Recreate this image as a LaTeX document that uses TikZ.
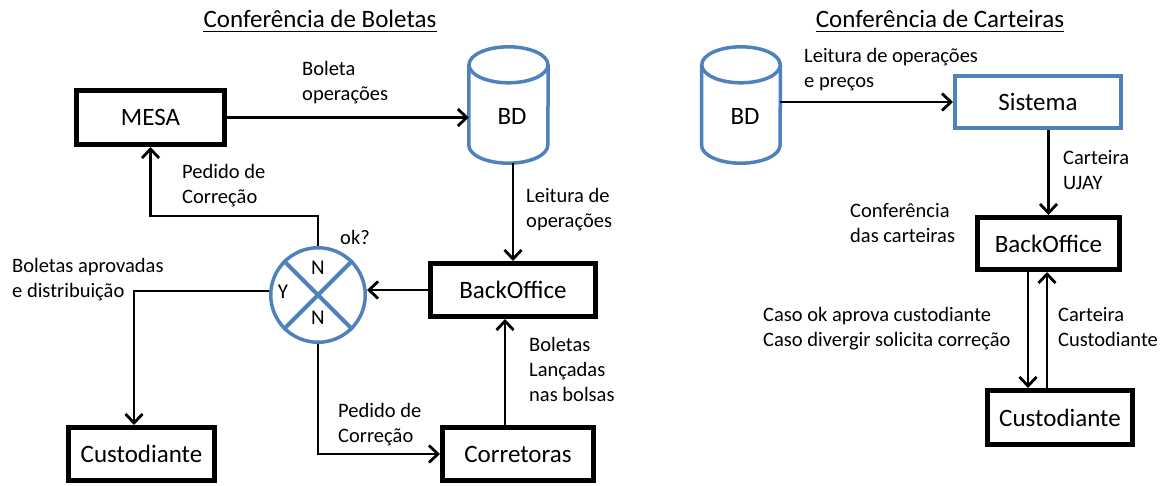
\documentclass[tikz,border=0pt]{standalone}
\usepackage{fontspec}
\setmainfont{Carlito}
\usetikzlibrary{arrows.meta,calc}
\definecolor{ofblue}{RGB}{79,129,189}
\begin{document}
\begin{tikzpicture}[x=1pt,y=-1pt,
  box/.style={draw=black, line width=5pt, inner sep=0pt, font=\fontsize{25}{30}\selectfont},
  bluebox/.style={draw=ofblue, line width=4pt, inner sep=0pt, font=\fontsize{25}{30}\selectfont},
  arr/.style={line width=2.8pt, -{Straight Barb[length=9pt,width=17pt]}},
  lbl/.style={anchor=north west, inner sep=0pt, align=left, font=\fontsize{20.5}{25}\selectfont},
  ttl/.style={anchor=base, inner sep=0pt, font=\fontsize{25}{30}\selectfont},
  cyl/.style={draw=ofblue, line width=3.5pt},
  dbtext/.style={font=\fontsize{25}{30}\selectfont, inner sep=0pt},
  letter/.style={font=\fontsize{21}{25}\selectfont, inner sep=0pt},
  ghost/.style={inner sep=0pt},
]
\useasboundingbox (0,0) rectangle (1167,485);

% ---------- titles ----------
\node[ttl] (t1) at (320,27) {Conferência de Boletas};
\draw[line width=1.8pt] ([yshift=-4.5pt]t1.base west) -- ([yshift=-4.5pt]t1.base east);
\node[ttl] (t2) at (940,27) {Conferência de Carteiras};
\draw[line width=1.8pt] ([yshift=-4.5pt]t2.base west) -- ([yshift=-4.5pt]t2.base east);

% ---------- left diagram ----------
\node[box, minimum width=148pt, minimum height=54pt] (mesa) at (150.5,117.5) {MESA};
\node[box, minimum width=165pt, minimum height=53pt] (bo1) at (513,290) {BackOffice};
\node[box, minimum width=146pt, minimum height=53pt] (cust1) at (141.5,454) {Custodiante};
\node[box, minimum width=151pt, minimum height=53pt] (corr) at (518,454) {Corretoras};

\node[ghost, minimum width=79pt, minimum height=116pt] (bd1) at (508.5,105) {};
\draw[cyl] ([yshift=-18pt]bd1.north west) -- ([yshift=18pt]bd1.south west)
  arc[start angle=180, end angle=360, x radius=39.5pt, y radius=18pt]
  -- ([yshift=-18pt]bd1.north east);
\draw[cyl] ([yshift=-18pt]bd1.north) ellipse [x radius=39.5pt, y radius=18pt];
\node[dbtext] (bd1t) at (512,116) {BD};

\node[circle, draw=ofblue, line width=3.5pt, minimum size=94.5pt, inner sep=0pt] (ok) at (318,295) {};
\draw[draw=ofblue, line width=4pt] (ok.north east) -- (ok.south west) (ok.north west) -- (ok.south east);
\node[letter] (nt) at (318,268) {N};
\node[letter] (yl) at (283,292) {Y};
\node[letter] (nb) at (318,318) {N};

\draw[arr] (mesa.east) -- (mesa.east -| bd1.west);
\draw[arr] (bd1.south -| bo1.north) -- (bo1.north);
\draw[arr] (bo1.west) -- (bo1.west -| ok.east);
\draw[arr] (ok.north) -- ++(0,-30) -| (mesa.south);
\coordinate (yc) at (134,291);
\draw[arr] ([yshift=4pt]ok.west) -- (yc) -- (yc |- cust1.north);
\draw[arr] (ok.south) |- (corr.west);
\coordinate (cu) at ([xshift=-13pt]corr.north);
\draw[arr] (cu) -- (cu |- bo1.south);

\node[lbl] (l1) at (302,61.5) {Boleta\\operações};
\node[lbl] (l2) at (526,188.5) {Leitura de\\operações};
\node[lbl] (l3) at (182,164.5) {Pedido de\\Correção};
\node[lbl] (l4) at (340,230.5) {ok?};
\node[lbl] (l5) at (12,258.5) {Boletas aprovadas\\e distribuição};
\node[lbl] (l6) at (338,403.5) {Pedido de\\Correção};
\node[lbl] (l7) at (529,337.5) {Boletas\\Lançadas\\nas bolsas};

% ---------- right diagram ----------
\node[ghost, minimum width=78.5pt, minimum height=116pt] (bd2) at (741,105) {};
\draw[cyl] ([yshift=-18pt]bd2.north west) -- ([yshift=18pt]bd2.south west)
  arc[start angle=180, end angle=360, x radius=39.25pt, y radius=18pt]
  -- ([yshift=-18pt]bd2.north east);
\draw[cyl] ([yshift=-18pt]bd2.north) ellipse [x radius=39.25pt, y radius=18pt];
\node[dbtext] (bd2t) at (745,116) {BD};

\node[bluebox, minimum width=166pt, minimum height=52pt] (sis) at (1038,102) {Sistema};
\node[box, minimum width=142pt, minimum height=52pt] (bo2) at (1048.5,243.5) {BackOffice};
\node[box, minimum width=145pt, minimum height=54pt] (cust2) at (1060,417.5) {Custodiante};

\draw[arr] (bd2.east |- sis.west) -- (sis.west);
\draw[arr] (sis.south -| bo2.north) -- (bo2.north);
\coordinate (d1) at ([xshift=-20.5pt]bo2.south);
\draw[arr] (d1) -- (d1 |- cust2.north);
\coordinate (u1) at ([xshift=-1.5pt]bo2.south);
\draw[arr] (u1 |- cust2.north) -- (u1);

\node[lbl] (r1) at (804,48.5) {Leitura de operações\\e preços};
\node[lbl] (r2) at (1063,150.5) {Carteira\\UJAY};
\node[lbl] (r3) at (850,203.5) {Conferência\\das carteiras};
\node[lbl] (r4) at (763,307.5) {Caso ok aprova custodiante\\Caso divergir solicita correção};
\node[lbl] (r5) at (1058,307.5) {Carteira\\Custodiante};
\end{tikzpicture}
\end{document}
